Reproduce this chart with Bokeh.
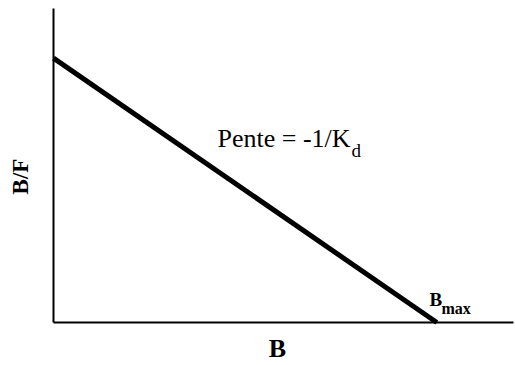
import math
from bokeh.plotting import figure
from bokeh.models import Range1d, Label, LinearAxis
from bokeh.embed import file_html
from bokeh.resources import INLINE

# Scatchard plot data (arbitrary units)
B_values = [0, 10]          # bound (B), from 0 to Bmax
BF_values = [8, 0]          # B/F, from intercept down to 0 at Bmax
x_label = "B"
y_label = "B/F"
slope_text = "Pente = -1/K"
slope_sub = "d"
bmax_text = "B"
bmax_sub = "max"

XMAX = 12.0   # extent of the B axis
YMAX = 9.5    # extent of the B/F axis

W, H = 515, 365
# pixel position of the origin and of the axis ends in the canvas
OX, OY = 53, 322
AX_RIGHT, AX_TOP = 513, 8

def xd(ix):
    return (ix - OX) / (AX_RIGHT - OX) * XMAX

def yd(iy):
    return (OY - iy) / (OY - AX_TOP) * YMAX

p = figure(width=W, height=H, output_backend="svg", toolbar_location=None,
           x_range=Range1d(xd(0), xd(W)), y_range=Range1d(yd(H), yd(0)),
           min_border=0, x_axis_type=None, y_axis_type=None)
p.outline_line_color = None
p.grid.visible = False
p.background_fill_color = "white"
p.border_fill_color = "white"

xaxis = LinearAxis(fixed_location=0, bounds=(0, XMAX))
yaxis = LinearAxis(fixed_location=0, bounds=(0, YMAX))
for ax in (xaxis, yaxis):
    ax.axis_line_width = 2
    ax.axis_line_color = "black"
    ax.major_tick_line_color = None
    ax.minor_tick_line_color = None
    ax.major_tick_in = 0
    ax.major_tick_out = 0
    ax.minor_tick_in = 0
    ax.minor_tick_out = 0
    ax.major_label_text_font_size = "0px"
    ax.major_label_text_color = None
p.add_layout(xaxis, "below")
p.add_layout(yaxis, "left")

p.line(B_values, BF_values, line_width=5, line_color="black")

serif = "Liberation Serif"
SHIFT = 0.38  # observed baseline offset, in em

def lab(ix, iy, text, size, bold=False, align="left", angle=0.0):
    if angle:
        ix = ix - SHIFT * size
    else:
        iy = iy - SHIFT * size
    p.add_layout(Label(x=xd(ix), y=yd(iy), text=text, text_font=serif,
                       text_font_style="bold" if bold else "normal",
                       text_font_size=f"{size}px", text_baseline="alphabetic",
                       text_align=align, text_color="black", angle=angle))

lab(217, 148, slope_text, 26)
lab(351, 157, slope_sub, 19)
lab(429, 306, bmax_text, 19, bold=True)
lab(441, 314, bmax_sub, 16, bold=True)
lab(277, 358, x_label, 26, bold=True, align="center")
lab(29, 176, y_label, 23, bold=True, align="center", angle=math.pi / 2)

open("out.html", "w").write(file_html(p, INLINE))
